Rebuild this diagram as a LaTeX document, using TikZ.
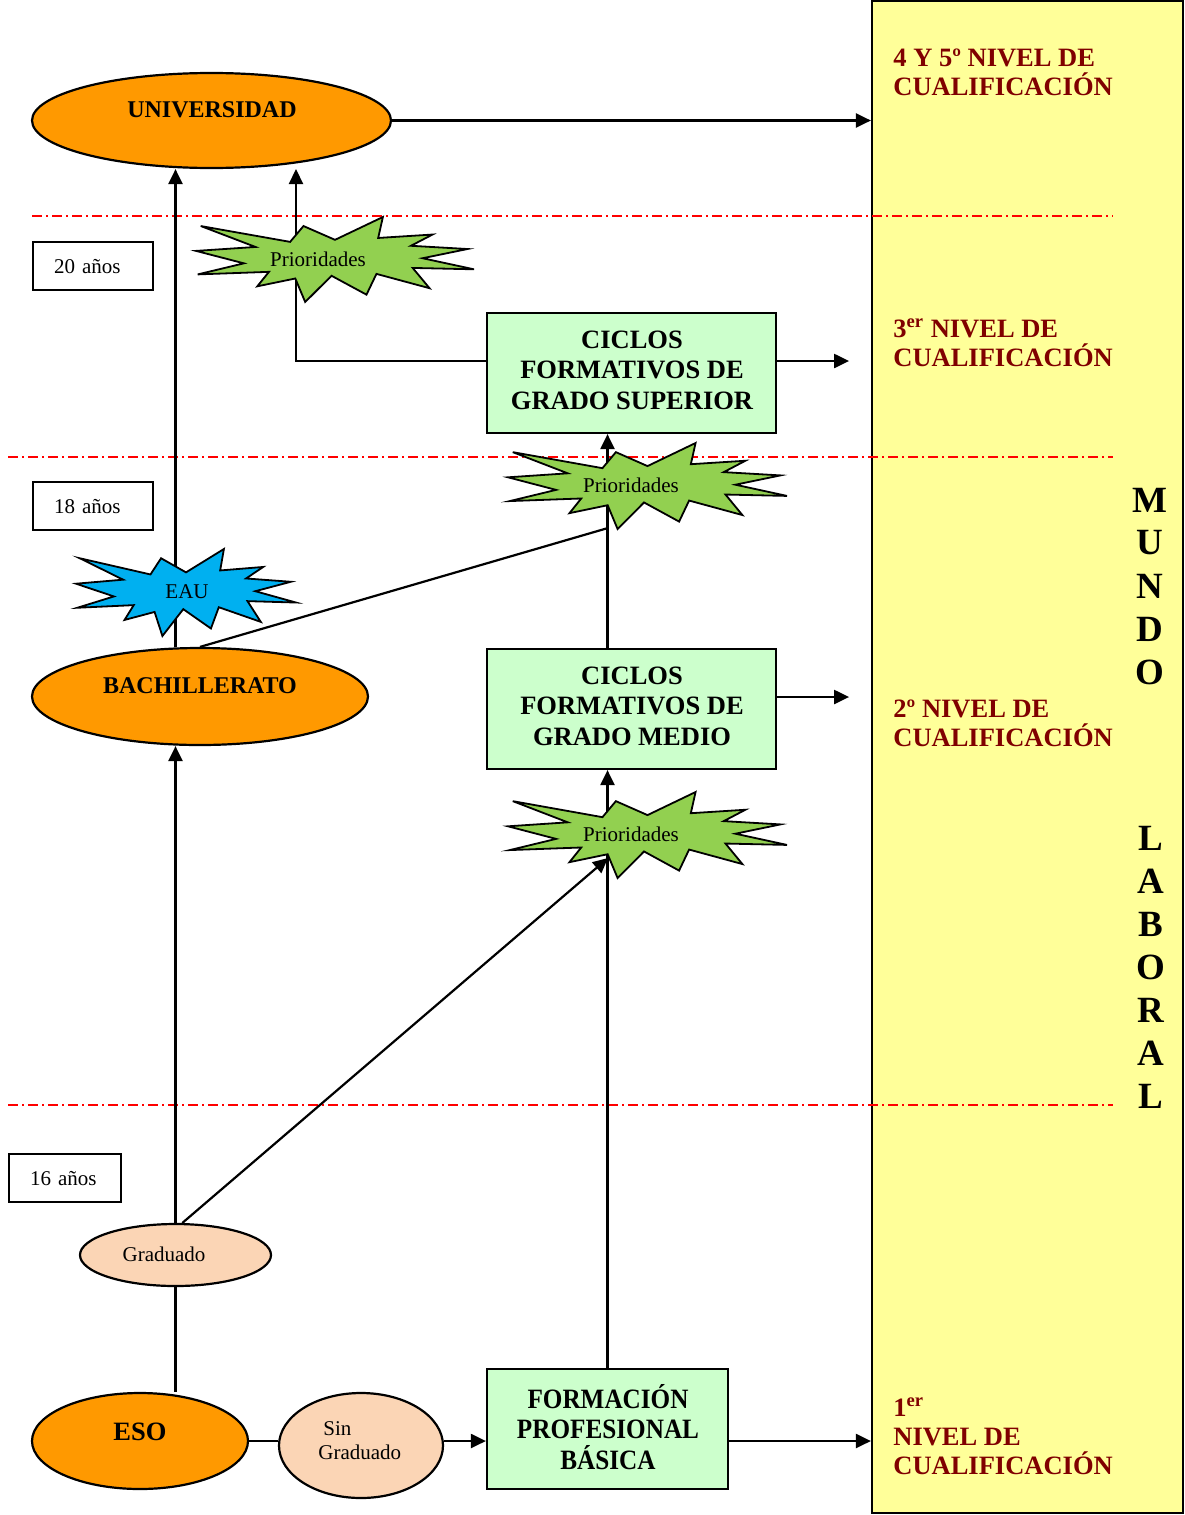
\documentclass[tikz,border=0pt]{standalone}
\usepackage{fontspec}
\setmainfont{Liberation Serif}
\newfontfamily\narrowserif[FakeStretch=0.9]{Liberation Serif}
\usetikzlibrary{shapes.geometric,arrows.meta}

\definecolor{orangefill}{HTML}{FF9900}
\definecolor{greenbox}{HTML}{CCFFCC}
\definecolor{yellowband}{HTML}{FFFF99}
\definecolor{priofill}{HTML}{92D050}
\definecolor{eaufill}{HTML}{00B0F0}
\definecolor{peach}{HTML}{FBD5B5}
\definecolor{levelred}{HTML}{800000}

\begin{document}
\begin{tikzpicture}[x=0.5pt, y=-0.5pt,
    oval/.style={ellipse, draw=black, line width=1.1pt, fill=orangefill, inner sep=0pt},
    smalloval/.style={ellipse, draw=black, line width=1.1pt, fill=peach, inner sep=0pt},
    cycle box/.style={rectangle, draw=black, line width=1.1pt, fill=greenbox,
        minimum width=144.5pt, minimum height=60pt, inner sep=0pt},
    agebox/.style={rectangle, draw=black, line width=1.1pt, minimum height=24pt,
        inner xsep=10.5pt, inner ysep=0pt, align=left, anchor=north west,
        font=\fontsize{10.5}{12}\selectfont},
    ovaltext/.style={font=\bfseries\fontsize{12}{14}\selectfont, inner sep=0pt},
    boxtext/.style={font=\bfseries\fontsize{13.25}{15.25}\selectfont, align=center, inner sep=0pt},
    level/.style={font=\bfseries\fontsize{13.25}{14.5}\selectfont, text=levelred,
        align=left, anchor=west, inner sep=0pt},
    plain/.style={font=\fontsize{10.5}{12}\selectfont, inner sep=0pt},
    mundo/.style={font=\bfseries\fontsize{18.5}{20}\selectfont, inner sep=0pt},
    edge/.style={line width=1.1pt},
    arr/.style={line width=1.1pt, -{Triangle[length=7.5pt, width=7pt]}},
    limit/.style={red, line width=0.8pt, dash pattern=on 5pt off 2pt on 1pt off 2pt},
    explosion/.pic={
        \draw[pic actions, line width=0.9pt] (0.5,0.2685) -- (0.6723,0) -- (0.6553,0.2465)
            -- (0.8509,0.2063) -- (0.7732,0.3387) -- (0.9767,0.3767) -- (0.8151,0.4850)
            -- (1,0.6153) -- (0.7795,0.5992) -- (0.8400,0.8377) -- (0.6491,0.6693)
            -- (0.6133,0.9137) -- (0.4876,0.6914) -- (0.3928,1) -- (0.3572,0.7235)
            -- (0.2205,0.8156) -- (0.2624,0.6452) -- (0.0063,0.6753) -- (0.1723,0.5451)
            -- (0,0.3988) -- (0.2142,0.3526) -- (0.0171,0.1063) -- (0.3385,0.2926)
            -- (0.3867,0.1063) -- cycle;
    }
]
    \useasboundingbox (0,0) rectangle (1184,1515);

    % mundo laboral
    \node[rectangle, draw=black, line width=1.1pt, fill=yellowband, inner sep=0pt,
        minimum width=155.5pt, minimum height=756pt] (mundo) at (1027.5,757) {};
    \foreach \ch [count=\i from 0] in {M,U,N,D,O}
        \node[mundo] (mu\i) at (1150,500+43*\i) {\ch};
    \foreach \ch [count=\i from 0] in {L,A,B,O,R,A,L}
        \node[mundo] (la\i) at (1151,838+43*\i) {\ch};

    \node[level] (lv45) at (893,72.5) {4 Y 5º NIVEL DE\\CUALIFICACIÓN};
    \node[level] (lv3) at (893,342.5) {3\textsuperscript{er} NIVEL DE\\CUALIFICACIÓN};
    \node[level] (lv2) at (893,723.5) {2º NIVEL DE\\CUALIFICACIÓN};
    \node[level] (lv1) at (893,1436) {1\textsuperscript{er}\\NIVEL DE\\CUALIFICACIÓN};

    % age limits
    \draw[limit] (32,216) -- (1113,216);
    \draw[limit] (8,457) -- (1113,457);
    \draw[limit] (8,1105) -- (1113,1105);
    \node[agebox, text width=39pt] (age20) at (32,241) {20 años};
    \node[agebox, text width=39pt] (age18) at (32,481) {18 años};
    \node[agebox, text width=35pt] (age16) at (8,1153) {16 años};

    % studies
    \node[oval, minimum width=179.5pt, minimum height=47.5pt] (univ) at (211.5,120.5) {};
    \node[ovaltext] (univ-t) at (212,110) {UNIVERSIDAD};
    \node[oval, minimum width=168pt, minimum height=48.5pt] (bach) at (200,696.5) {};
    \node[ovaltext] (bach-t) at (200,686) {BACHILLERATO};
    \node[oval, minimum width=108pt, minimum height=48pt] (eso) at (140,1441) {};
    \node[ovaltext, font=\bfseries\fontsize{13.25}{15}\selectfont] (eso-t) at (140,1432) {ESO};
    \node[smalloval, minimum width=95.5pt, minimum height=31pt] (grad) at (175.5,1255) {};
    \node[plain] (grad-t) at (164,1254) {Graduado};
    \node[smalloval, minimum width=82pt, minimum height=52.5pt] (sing) at (361,1445.5) {};
    \node[plain, align=left, anchor=west] (sing-t) at (318,1441) {\hspace{2.5pt}Sin\\Graduado};

    \node[cycle box] (cfgs) at (631.5,373) {};
    \node[boxtext] (cfgs-t) at (632,370) {CICLOS\\FORMATIVOS DE\\GRADO SUPERIOR};
    \node[cycle box] (cfgm) at (631.5,709) {};
    \node[boxtext] (cfgm-t) at (632,706) {CICLOS\\FORMATIVOS DE\\GRADO MEDIO};
    \node[cycle box, minimum width=120.5pt] (fpb) at (607.5,1429) {};
    \node[boxtext, font=\narrowserif\bfseries\fontsize{14}{15.25}\selectfont] (fpb-t) at (608,1427)
        {FORMACIÓN\\PROFESIONAL\\BÁSICA};

    \coordinate (univin) at (296,169);
    \coordinate (join2) at (608,528);
    \coordinate (join3) at (608,858);

    \draw[arr] (univ.east) -- (univ.east -| mundo.west);
    \draw[arr] (grad.north |- bach.north) -- (grad.north |- univ.south);
    \draw[arr] ([yshift=6pt]cfgs.west) -| (univin);
    \draw[arr] ([yshift=6pt]cfgs.east) -- ++(72,0);
    \draw[arr] (fpb.north |- cfgm.north) -- (fpb.north |- cfgs.south);
    \draw[edge] (bach.north) -- (join2);
    \draw[arr] ([yshift=6pt]cfgm.east) -- ++(72,0);
    \draw[arr] (fpb.north) -- (fpb.north |- cfgm.south);
    \draw[arr] (grad.78) -- (join3);
    \draw[arr] (grad.north) -- (grad.north |- bach.south);
    \draw[edge] (grad.south) -- (grad.south |- eso.north);
    \draw[edge] (eso.east) -- (eso.east -| sing.west);
    \draw[arr] (eso.east -| sing.east) -- (eso.east -| fpb.west);
    \draw[arr] ([yshift=-6pt]fpb.east) -- ([yshift=-6pt]fpb.east -| mundo.west);

    % prioridades / eau
    \pic[fill=priofill, xscale=278, yscale=85] at (196,217) {explosion};
    \node[plain] (prio1) at (318,259) {Prioridades};
    \pic[fill=priofill, xscale=279, yscale=86] at (508,443) {explosion};
    \node[plain] (prio2) at (631,485) {Prioridades};
    \pic[fill=priofill, xscale=279, yscale=86] at (508,792) {explosion};
    \node[plain] (prio3) at (631,834) {Prioridades};
    \pic[fill=eaufill, xscale=220, yscale=87] at (76,549) {explosion};
    \node[plain] (eau) at (187,592) {EAU};
\end{tikzpicture}
\end{document}
